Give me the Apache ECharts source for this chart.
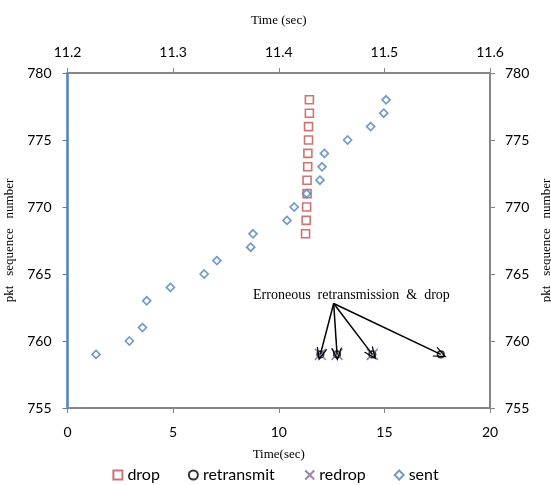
<!DOCTYPE html>
<html><head><meta charset="utf-8">
<script src="https://cdn.jsdelivr.net/npm/echarts@6/dist/echarts.min.js"></script>
<style>html,body{margin:0;padding:0;background:#fff}#c{width:551px;height:485px}</style>
</head><body><div id="c"></div>
<script>
// ---- data ----
const sentX = [1.35, 2.93, 3.55, 3.75, 4.87, 6.47, 7.07, 8.67, 8.78, 10.39, 10.73, 11.32, 11.95, 12.05, 12.16, 13.26, 14.35, 14.97, 15.08];
const sentY = [759, 760, 761, 763, 764, 765, 766, 767, 768, 769, 770, 771, 772, 773, 774, 775, 776, 777, 778];
const dropX = [11.27, 11.30, 11.32, 11.34, 11.34, 11.37, 11.38, 11.41, 11.41, 11.45, 11.45];
const dropY = [768, 769, 770, 771, 772, 773, 774, 775, 776, 777, 778];
const retransX = [11.97, 12.76, 14.43, 17.67];
const retransY = [759, 759, 759, 759];
const redropX = [11.97, 12.76, 14.43];
const redropY = [759, 759, 759];
const annotText = 'Erroneous  retransmission  &  drop';
const annotAt = [13.44, 763.4];
const arrowFrom = [12.6, 762.8];
const xTicksBottom = [0, 20, 5];
const xTicksTop = [11.2, 11.6, 0.1];
const yTicks = [755, 780, 5];

const zip = (xs, ys) => xs.map((x, i) => [x, ys[i]]);
const tickFont = {fontFamily: 'Lato', fontSize: 14, color: '#000'};
const serif = {fontFamily: 'Liberation Serif', fontSize: 13, color: '#000'};
const chevron = 'path://M0,12L5,0L10,12L8.8,12L5,3.2L1.2,12Z';

const chart = echarts.init(document.getElementById('c'), null, {renderer: 'canvas'});
chart.setOption({
  animation: false,
  backgroundColor: '#fff',
  grid: {left: 67.5, right: 61, top: 73, bottom: 77, containLabel: false, outerBoundsMode: 'none'},
  xAxis: [
    {type: 'value', position: 'bottom', min: xTicksBottom[0], max: xTicksBottom[1], interval: xTicksBottom[2],
     axisLine: {show: true, onZero: false, lineStyle: {color: '#868686', width: 2}},
     axisTick: {show: true, inside: false, length: 5, lineStyle: {color: '#868686'}},
     splitLine: {show: false},
     axisLabel: Object.assign({margin: 17}, tickFont),
     name: 'Time(sec)', nameLocation: 'middle', nameGap: 40, nameTextStyle: serif},
    {type: 'value', position: 'top', min: xTicksTop[0], max: xTicksTop[1], interval: xTicksTop[2],
     axisLine: {show: true, onZero: false, lineStyle: {color: '#868686', width: 2}},
     axisTick: {show: true, inside: false, length: 5, lineStyle: {color: '#868686'}},
     splitLine: {show: false},
     axisLabel: Object.assign({margin: 14, formatter: v => v.toFixed(1)}, tickFont),
     name: 'Time (sec)', nameLocation: 'middle', nameGap: 46, nameTextStyle: serif}
  ],
  yAxis: [
    {type: 'value', position: 'left', min: yTicks[0], max: yTicks[1], interval: yTicks[2],
     axisLine: {show: true, onZero: false, lineStyle: {color: '#4F81BD', width: 2.5}},
     axisTick: {show: true, inside: false, length: 5, lineStyle: {color: '#4F81BD'}},
     splitLine: {show: false},
     axisLabel: Object.assign({margin: 16}, tickFont),
     name: 'pkt   sequence   number', nameLocation: 'middle', nameGap: 43, nameRotate: 90, nameTextStyle: serif},
    {type: 'value', position: 'right', min: yTicks[0], max: yTicks[1], interval: yTicks[2],
     axisLine: {show: true, onZero: false, lineStyle: {color: '#868686', width: 2}},
     axisTick: {show: true, inside: false, length: 5, lineStyle: {color: '#868686'}},
     splitLine: {show: false},
     axisLabel: Object.assign({margin: 15}, tickFont),
     name: 'pkt   sequence   number', nameLocation: 'middle', nameGap: 41, nameRotate: 90, nameTextStyle: serif}
  ],
  legend: {
    bottom: 0, padding: [2, 5, 2, 5], left: 'center', itemWidth: 9, itemHeight: 9, itemGap: 28,
    textStyle: {fontFamily: 'Lato', fontSize: 16, color: '#000'},
    data: ['drop', 'retransmit', 'redrop', 'sent']
  },
  series: [
    {name: 'drop', type: 'scatter', data: zip(dropX, dropY), symbol: 'rect', symbolSize: 8,
     itemStyle: {color: '#fff', borderColor: '#C0504D', borderWidth: 1.6}},
    {name: 'retransmit', type: 'scatter', data: zip(retransX, retransY), symbol: 'circle', symbolSize: 6.5,
     itemStyle: {color: '#fff', borderColor: '#000', borderWidth: 1.6}},
    {name: 'redrop', type: 'scatter', data: zip(redropX, redropY), symbol: 'path://M0,0L10,10M10,0L0,10', symbolSize: 11,
     itemStyle: {color: 'none', borderColor: '#8064A2', borderWidth: 1.5}},
    {name: 'sent', type: 'scatter', data: zip(sentX, sentY), symbol: 'diamond', symbolSize: 8,
     itemStyle: {color: '#fff', borderColor: '#4F81BD', borderWidth: 1.7}},
    {name: 'annot', type: 'scatter', data: [], silent: true,
     markLine: {
       silent: true, symbol: ['none', chevron], symbolSize: [11, 13],
       lineStyle: {color: '#000', width: 1.5, type: 'solid'}, label: {show: false},
       data: retransX.map((x, i) => [{coord: arrowFrom}, {coord: [x, retransY[i]]}])
     },
     markPoint: {
       silent: true, symbol: 'circle', symbolSize: 0,
       label: {show: true, formatter: annotText, position: 'inside', fontFamily: 'Liberation Serif', fontSize: 14, color: '#000'},
       data: [{coord: annotAt}]
     }}
  ]
});
</script></body></html>
